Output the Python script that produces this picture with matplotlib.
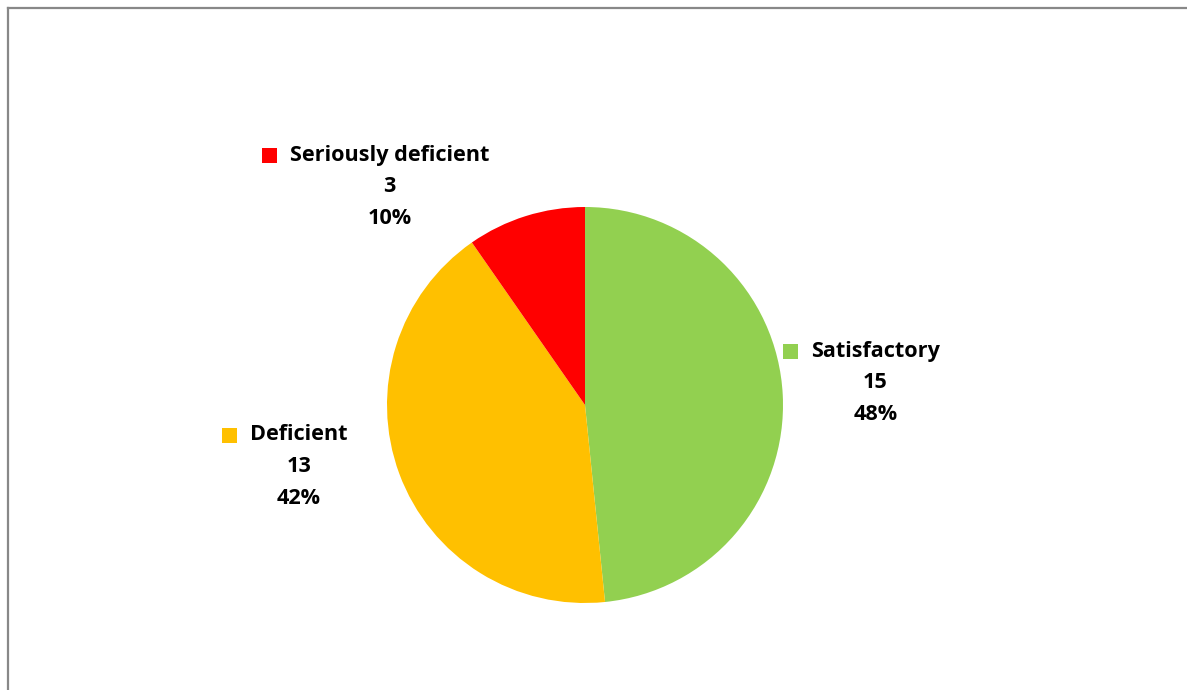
import matplotlib
matplotlib.use("Agg")
import matplotlib.pyplot as plt
from matplotlib.patches import Rectangle
from matplotlib.lines import Line2D

categories = ["Satisfactory", "Deficient", "Seriously deficient"]
counts = [15, 13, 3]
percents = ["48%", "42%", "10%"]
colors = ["#92D050", "#FFC000", "#FF0000"]

W, H = 1187, 690
fig = plt.figure(figsize=(W / 100, H / 100), dpi=100)
ax = fig.add_axes([0, 0, 1, 1])

ax.pie(counts, colors=colors, startangle=90, counterclock=False,
       center=(585, H - 405), radius=198, frame=True)
ax.set_xlim(0, W)
ax.set_ylim(0, H)
ax.set_aspect("equal")
ax.axis("off")

# label positions (pixel coords of name text left edge and name center y)
label_pos = {
    "Satisfactory": (811, 351),
    "Deficient": (250, 435),
    "Seriously deficient": (290, 155),
}
font = dict(family=["Open Sans", "DejaVu Sans"], fontsize=15.6, fontweight="bold", color="#000000")
for cat, n, p, c in zip(categories, counts, percents, colors):
    x0, y0 = label_pos[cat]
    t = ax.text(x0, H - y0, cat, ha="left", va="center", **font)
    fig.canvas.draw()
    bb = t.get_window_extent()
    cx = (bb.x0 + bb.x1) / 2
    ax.add_patch(Rectangle((x0 - 28, H - y0 - 7.5), 15, 15, color=c, lw=0))
    ax.text(cx, H - y0 - 31, str(n), ha="center", va="center", **font)
    ax.text(cx, H - y0 - 63, p, ha="center", va="center", **font)

# chart border (top and left visible)
fig.add_artist(Line2D([7.5 / W, 1], [1 - 7.5 / H, 1 - 7.5 / H], color="#888888", lw=1.6,
                      transform=fig.transFigure))
fig.add_artist(Line2D([7.5 / W, 7.5 / W], [0, 1 - 7.5 / H], color="#888888", lw=1.6,
                      transform=fig.transFigure))

fig.savefig("out.png", dpi=100, facecolor="white")
